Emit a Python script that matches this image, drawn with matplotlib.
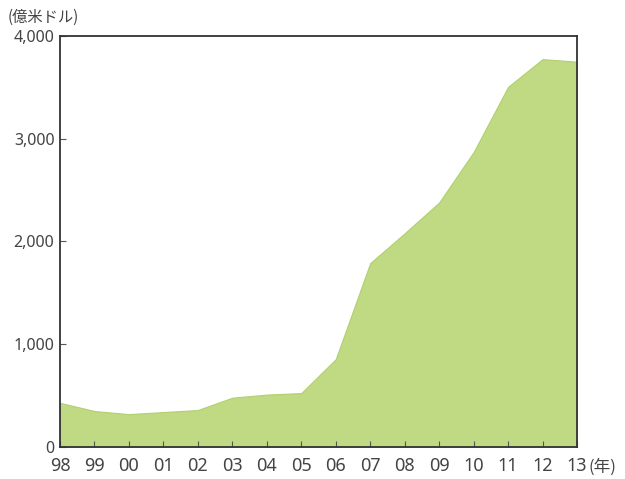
import matplotlib
matplotlib.use("Agg")
import matplotlib.pyplot as plt

years = ["98", "99", "00", "01", "02", "03", "04", "05", "06", "07", "08", "09", "10", "11", "12", "13"]
values = [430, 350, 320, 340, 360, 480, 510, 525, 855, 1790, 2080, 2380, 2870, 3505, 3775, 3750]
yticks = [0, 1000, 2000, 3000, 4000]
ytick_labels = ["0", "1,000", "2,000", "3,000", "4,000"]

plt.rcParams['font.family'] = ['Noto Sans', 'Noto Sans CJK JP', 'DejaVu Sans']

fig = plt.figure(figsize=(6.25, 4.79), dpi=100)
ax = fig.add_axes([60/625, 1-447/479, 517/625, 411/479])

x = list(range(len(years)))
ax.fill_between(x, values, 0, color="#bfda82", edgecolor="#b0d070", linewidth=0.8)
ax.set_xlim(0, len(years)-1)
ax.set_ylim(0, 4000)

ax.set_xticks(x)
ax.set_xticklabels(years, fontsize=13, color="#444444")
ax.set_yticks(yticks)
ax.set_yticklabels(ytick_labels, fontsize=11.5, color="#444444")
ax.tick_params(axis='both', direction='in', length=4, width=0.8, color="#555555")
ax.tick_params(axis='x', pad=7)
ax.tick_params(axis='y', pad=4)
for s in ax.spines.values():
    s.set_color("#333333")
    s.set_linewidth(1.3)

fig.text(589/625, 1-467/479, "(年)", fontsize=12, color="#444444", ha="left", va="center",
         family=['Noto Sans CJK JP', 'DejaVu Sans'])
fig.text(8/625, 1-17/479, "(億米ドル)", fontsize=11, color="#444444", ha="left", va="center",
         family=['Noto Sans CJK JP', 'DejaVu Sans'])

fig.savefig("out.png", dpi=100)
